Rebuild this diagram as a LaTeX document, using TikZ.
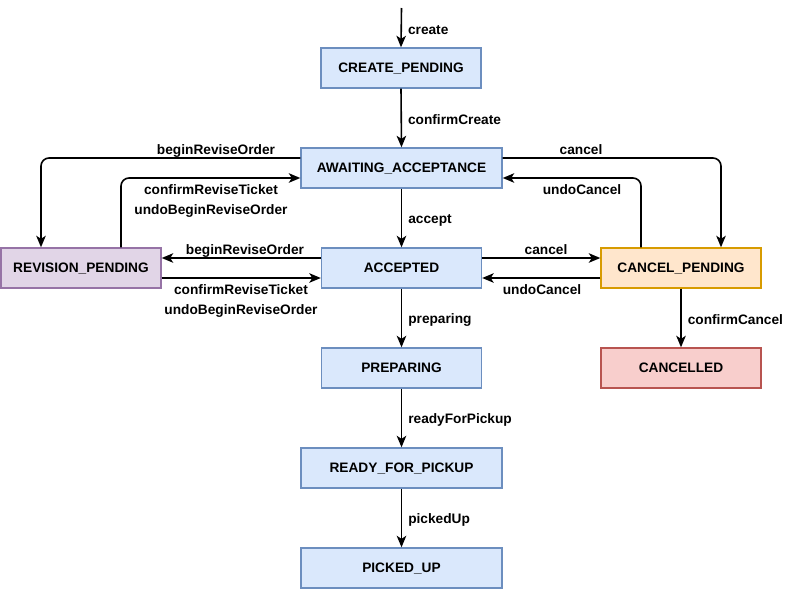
\documentclass[tikz,border=0pt]{standalone}
\usepackage{fontspec}
\setmainfont{Liberation Sans}
\usetikzlibrary{arrows.meta}
\definecolor{blueFill}{HTML}{DAE8FC}
\definecolor{blueLine}{HTML}{6C8EBF}
\definecolor{purpleFill}{HTML}{E1D5E7}
\definecolor{purpleLine}{HTML}{9673A6}
\definecolor{orangeFill}{HTML}{FFE6CC}
\definecolor{orangeLine}{HTML}{D79B00}
\definecolor{redFill}{HTML}{F8CECC}
\definecolor{redLine}{HTML}{B85450}
\begin{document}
\begin{tikzpicture}[x=1pt,y=-1pt,
  state/.style={draw, line width=1.4pt, minimum width=160pt, minimum height=40pt,
    inner sep=0pt, text height=9.9pt, text depth=0pt,
    font=\fontsize{13.7}{16}\selectfont\bfseries},
  wide/.style={minimum width=201pt},
  bluestate/.style={state, fill=blueFill, draw=blueLine},
  purplestate/.style={state, fill=purpleFill, draw=purpleLine},
  orangestate/.style={state, fill=orangeFill, draw=orangeLine},
  redstate/.style={state, fill=redFill, draw=redLine},
  flow/.style={line width=1.6pt, rounded corners=8pt,
    -{Stealth[length=11.5pt,width=9.5pt,inset=3pt]}},
  lbl/.style={font=\fontsize{13.7}{16}\selectfont\bfseries, inner sep=0pt},
  vlbl/.style={lbl, anchor=west, midway, xshift=6pt, yshift=-2pt}
]
\useasboundingbox (0,0) rectangle (802,589);

% states
\node[bluestate] (cp) at (401,68) {CREATE\_PENDING};
\node[bluestate,wide] (aa) at (401.5,168) {AWAITING\_ACCEPTANCE};
\node[bluestate] (ac) at (401.5,268) {ACCEPTED};
\node[purplestate] (rp) at (81,268) {REVISION\_PENDING};
\node[orangestate] (cpd) at (681,268) {CANCEL\_PENDING};
\node[redstate] (cl) at (681,368) {CANCELLED};
\node[bluestate] (pr) at (401.5,368) {PREPARING};
\node[bluestate,wide] (rfp) at (401.5,468) {READY\_FOR\_PICKUP};
\node[bluestate,wide] (pu) at (401.5,568) {PICKED\_UP};

% main flow
\coordinate (start) at (401.5,8);
\draw[flow] (start) -- (cp.north) node[vlbl] {create};
\draw[flow] (cp.south) -- (aa.north) node[vlbl] {confirmCreate};
\draw[flow] (aa.south) -- (ac.north) node[vlbl] {accept};
\draw[flow] (ac.south) -- (pr.north) node[vlbl] {preparing};
\draw[flow] (pr.south) -- (rfp.north) node[vlbl] {readyForPickup};
\draw[flow] (rfp.south) -- (pu.north) node[vlbl] {pickedUp};
\draw[flow] (cpd.south) -- (cl.north) node[vlbl] {confirmCancel};

% revision loops
\draw[flow] ([yshift=10pt]aa.west) -| ([xshift=-40pt]rp.north)
  node[lbl, anchor=base] at (216,154) {beginReviseOrder};
\draw[flow] ([xshift=40pt]rp.north) |- ([yshift=-10pt]aa.west)
  node[lbl, anchor=base] at (211,194) {confirmReviseTicket}
  node[lbl, anchor=base] at (211,214) {undoBeginReviseOrder};
\draw[flow] ([yshift=10pt]ac.west) -- ([yshift=10pt]rp.east)
  node[lbl, anchor=base] at (245,254) {beginReviseOrder};
\draw[flow] ([yshift=-10pt]rp.east) -- ([yshift=-10pt]ac.west)
  node[lbl, anchor=base] at (241,294) {confirmReviseTicket}
  node[lbl, anchor=base] at (241,314) {undoBeginReviseOrder};

% cancel loops
\draw[flow] ([yshift=10pt]aa.east) -| ([xshift=40pt]cpd.north)
  node[lbl, anchor=base] at (581,154) {cancel};
\draw[flow] ([xshift=-40pt]cpd.north) |- ([yshift=-10pt]aa.east)
  node[lbl, anchor=base] at (582,194) {undoCancel};
\draw[flow] ([yshift=10pt]ac.east) -- ([yshift=10pt]cpd.west)
  node[lbl, anchor=base] at (546,254) {cancel};
\draw[flow] ([yshift=-10pt]cpd.west) -- ([yshift=-10pt]ac.east)
  node[lbl, anchor=base] at (542,294) {undoCancel};
\end{tikzpicture}
\end{document}
